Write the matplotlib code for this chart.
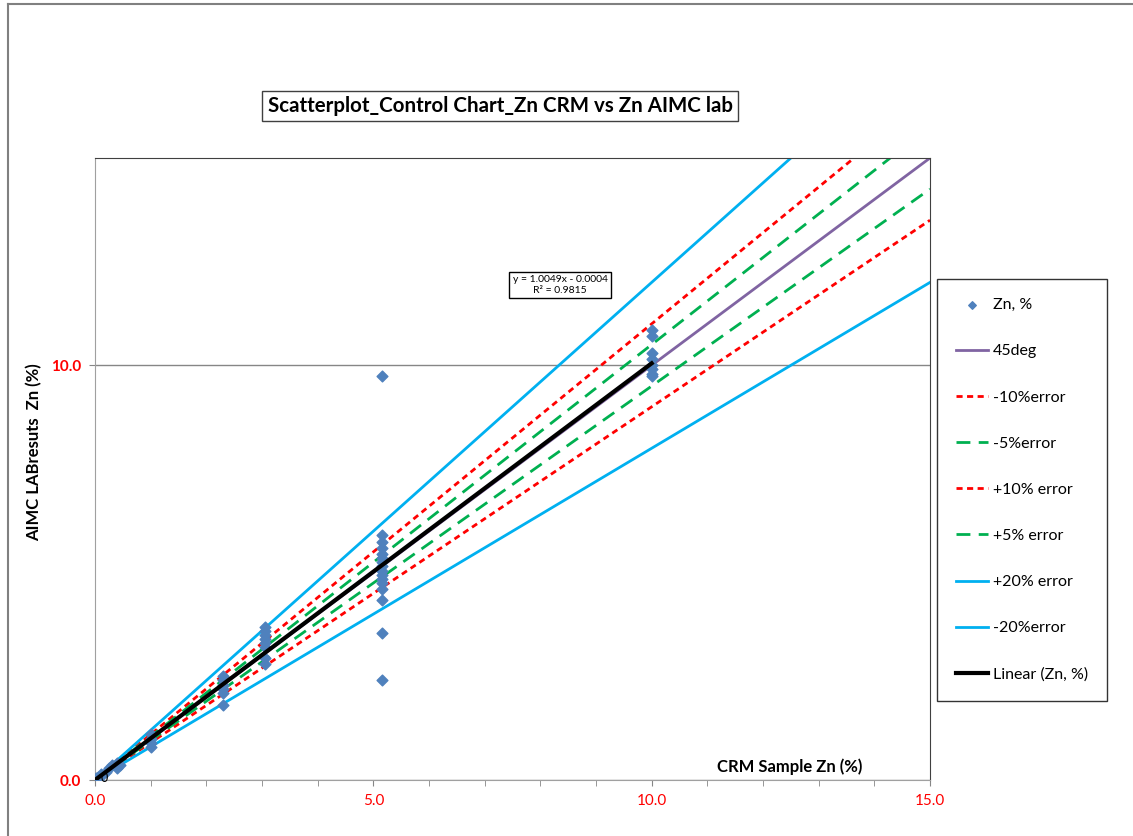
import matplotlib
matplotlib.use("Agg")
import matplotlib.pyplot as plt
from matplotlib.lines import Line2D
import numpy as np

plt.rcParams['font.family'] = ['Lato', 'DejaVu Sans']

# CRM values (x) and lab results (y)
crm_x = [0.0, 0.02, 0.05, 0.05, 0.1, 0.1, 0.2, 0.25, 0.3, 0.4, 0.4, 0.45,
         1.0, 1.0, 1.0, 1.0,
         2.3, 2.3, 2.3, 2.3, 2.3, 2.3,
         3.05, 3.05, 3.05, 3.05, 3.05, 3.05, 3.05, 3.05,
         5.15, 5.15, 5.15, 5.15, 5.15, 5.15, 5.15, 5.15, 5.15, 5.15, 5.15,
         5.15, 5.15, 5.15, 5.15, 5.15,
         10.0, 10.0, 10.0, 10.0, 10.0, 10.0, 10.0, 10.0]
lab_y = [0.0, 0.05, 0.08, 0.0, 0.1, 0.15, 0.2, 0.3, 0.35, 0.3, 0.4, 0.35,
         1.1, 1.0, 0.9, 0.8,
         2.5, 2.4, 2.3, 2.2, 2.1, 1.8,
         3.7, 3.6, 3.5, 3.4, 3.3, 3.2, 2.95, 2.8,
         5.9, 5.75, 5.6, 5.45, 5.35, 5.25, 5.15, 5.05, 4.95, 4.85, 4.75,
         4.6, 4.35, 3.55, 2.4, 9.75,
         10.85, 10.7, 10.3, 10.15, 10.0, 9.9, 9.8, 9.75]

line_x = [0.0, 15.0]
slope_45 = 1.0
slope_m10, slope_p10 = 1.10, 0.90
slope_m5, slope_p5 = 1.05, 0.95
slope_p20, slope_m20 = 1.20, 0.80
fit_a, fit_b = 1.0049, -0.0004
fit_x = [0.0, 10.0]

fig = plt.figure(figsize=(11.33, 8.36), dpi=100)
ax = fig.add_axes([95/1133, 56/836, 835/1133, 622/836])

lx = np.array(line_x)
ax.plot(lx, slope_45*lx, color='#8064A2', lw=2, label='45deg', zorder=2)
ax.plot(lx, slope_m10*lx, color='#FF0000', lw=2, ls=(0, (2.2, 1.6)), label='-10%error', zorder=2)
ax.plot(lx, slope_m5*lx, color='#00B050', lw=2, ls=(0, (5, 3)), label='-5%error', zorder=2)
ax.plot(lx, slope_p10*lx, color='#FF0000', lw=2, ls=(0, (2.2, 1.6)), label='+10% error', zorder=2)
ax.plot(lx, slope_p5*lx, color='#00B050', lw=2, ls=(0, (5, 3)), label='+5% error', zorder=2)
ax.plot(lx, slope_p20*lx, color='#00B0F0', lw=2, label='+20% error', zorder=2)
ax.plot(lx, slope_m20*lx, color='#00B0F0', lw=2, label='-20%error', zorder=2)
ax.scatter(crm_x, lab_y, marker='D', s=30, color='#4F81BD', zorder=3, label='Zn, %')
fx = np.array(fit_x)
ax.plot(fx, fit_a*fx + fit_b, color='black', lw=3, label='Linear (Zn, %)', zorder=4)

ax.set_xlim(0, 15)
ax.set_ylim(0, 15)
ax.set_xticks([0, 5, 10, 15])
ax.set_xticks(np.arange(0, 16, 1), minor=True)
ax.set_yticks([0, 10])
ax.set_xticklabels(['0.0', '5.0', '10.0', '15.0'], color='#FF0000', fontsize=11)
ax.set_yticklabels(['0.0', '10.0'], color='#FF0000', fontsize=11, fontweight='bold')
ax.tick_params(axis='x', which='both', direction='out', length=4, color='#868686', pad=6)
ax.tick_params(axis='y', which='both', direction='out', length=4, color='#868686', pad=6)
ax.yaxis.grid(True, color='#868686', lw=1)
ax.set_axisbelow(True)
for s in ['left', 'bottom']:
    ax.spines[s].set_color('#A0A0A0')
for s in ['top', 'right']:
    ax.spines[s].set_color('#404040')

ax.text(0.1, 0.05, '0', fontsize=9, ha='left', va='center', color='black', zorder=5)

fig.text(790/1133, 1-767/836, 'CRM Sample Zn (%)', fontsize=12, fontweight='bold',
         ha='center', va='center')
fig.text(34/1133, 1-452/836, 'AIMC LABresuts  Zn (%)', fontsize=12, fontweight='bold',
         ha='center', va='center', rotation=90)
fig.text(500/1133, 1-106/836, 'Scatterplot_Control Chart_Zn CRM vs Zn AIMC lab',
         fontsize=14.8, fontweight='bold', ha='center', va='center',
         bbox=dict(boxstyle='square,pad=0.25', fc='white', ec='#404040', lw=1))
fig.text(560/1133, 1-285/836, 'y = 1.0049x - 0.0004\nR² = 0.9815', fontsize=7.5,
         ha='center', va='center', linespacing=1.2,
         bbox=dict(boxstyle='square,pad=0.35', fc='white', ec='black', lw=1))

# figure border
fig.add_artist(Line2D([8/1133, 1], [1-4/836, 1-4/836], color='#808080', lw=1.5))
fig.add_artist(Line2D([8/1133, 8/1133], [0, 1-4/836], color='#808080', lw=1.5))

handles, labels = ax.get_legend_handles_labels()
order = ['Zn, %', '45deg', '-10%error', '-5%error', '+10% error', '+5% error',
         '+20% error', '-20%error', 'Linear (Zn, %)']
hmap = dict(zip(labels, handles))
leg = fig.legend([hmap[k] for k in order], order, loc='upper left',
                 bbox_to_anchor=(937/1133, 1-279/836), fontsize=11.5,
                 frameon=True, fancybox=False, edgecolor='black', labelspacing=2.0,
                 handlelength=2.0, borderpad=1.2, handletextpad=0.3, borderaxespad=0,
                 markerscale=0.7)
leg.get_frame().set_linewidth(1)

fig.savefig('out.png', dpi=100)
